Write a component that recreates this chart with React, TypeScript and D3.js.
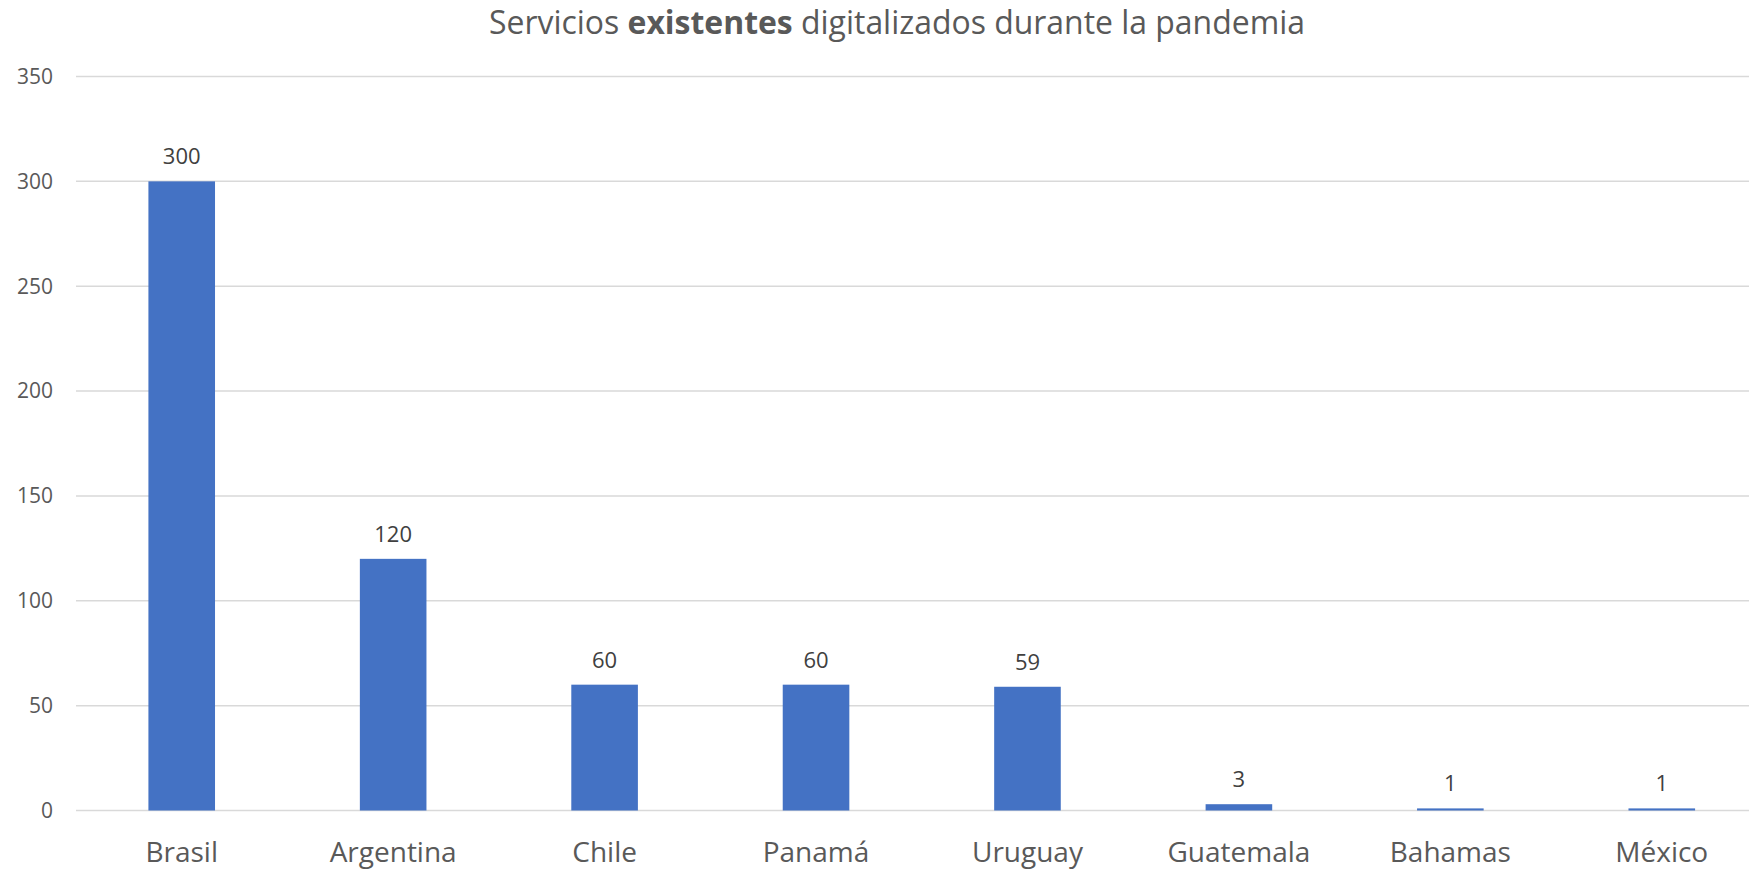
import React from "react";
import * as d3 from "d3";

const categories = ["Brasil", "Argentina", "Chile", "Panamá", "Uruguay", "Guatemala", "Bahamas", "México"];
const values = [300, 120, 60, 60, 59, 3, 1, 1];
const yTicks = [0, 50, 100, 150, 200, 250, 300, 350];

const W = 1749;
const H = 870;
const FONT = "'Open Sans', 'Liberation Sans', sans-serif";
const TEXT = "#595959";

export default function App() {
  const x = d3.scaleBand<string>().domain(categories).range([76, 1767.5]).paddingInner(0.685).paddingOuter(0.3425);
  const y = d3.scaleLinear().domain([0, 350]).range([810.5, 76.5]);
  return (
    <svg width={W} height={H} style={{ position: "absolute", left: 0, top: 0, background: "#fff" }}>
      <rect x={0} y={0} width={W} height={H} fill="#fff" />
      <text x={897} y={34} textAnchor="middle" fontFamily={FONT} fontSize={32} fill={TEXT} fontWeight={400} textLength={816} lengthAdjust="spacingAndGlyphs">
        Servicios <tspan fontWeight={700}>existentes</tspan> digitalizados durante la pandemia
      </text>
      {yTicks.map((t) => (
        <g key={t}>
          <line x1={76} x2={W} y1={y(t)} y2={y(t)} stroke="#D9D9D9" strokeWidth={1.5} />
          <text x={53} y={y(t)} dy="0.35em" textAnchor="end" fontFamily={FONT} fontSize={21} fill={TEXT}>
            {t}
          </text>
        </g>
      ))}
      {categories.map((c, i) => (
        <g key={c}>
          <rect x={x(c)} y={y(values[i])} width={x.bandwidth()} height={y(0) - y(values[i])} fill="#4472C4" />
          <text x={(x(c) as number) + x.bandwidth() / 2} y={y(values[i]) - 17} textAnchor="middle" fontFamily={FONT} fontSize={22} fill="#404040">
            {values[i]}
          </text>
          <text x={(x(c) as number) + x.bandwidth() / 2} y={862} textAnchor="middle" fontFamily={FONT} fontSize={28} fill={TEXT}>
            {c}
          </text>
        </g>
      ))}
    </svg>
  );
}
